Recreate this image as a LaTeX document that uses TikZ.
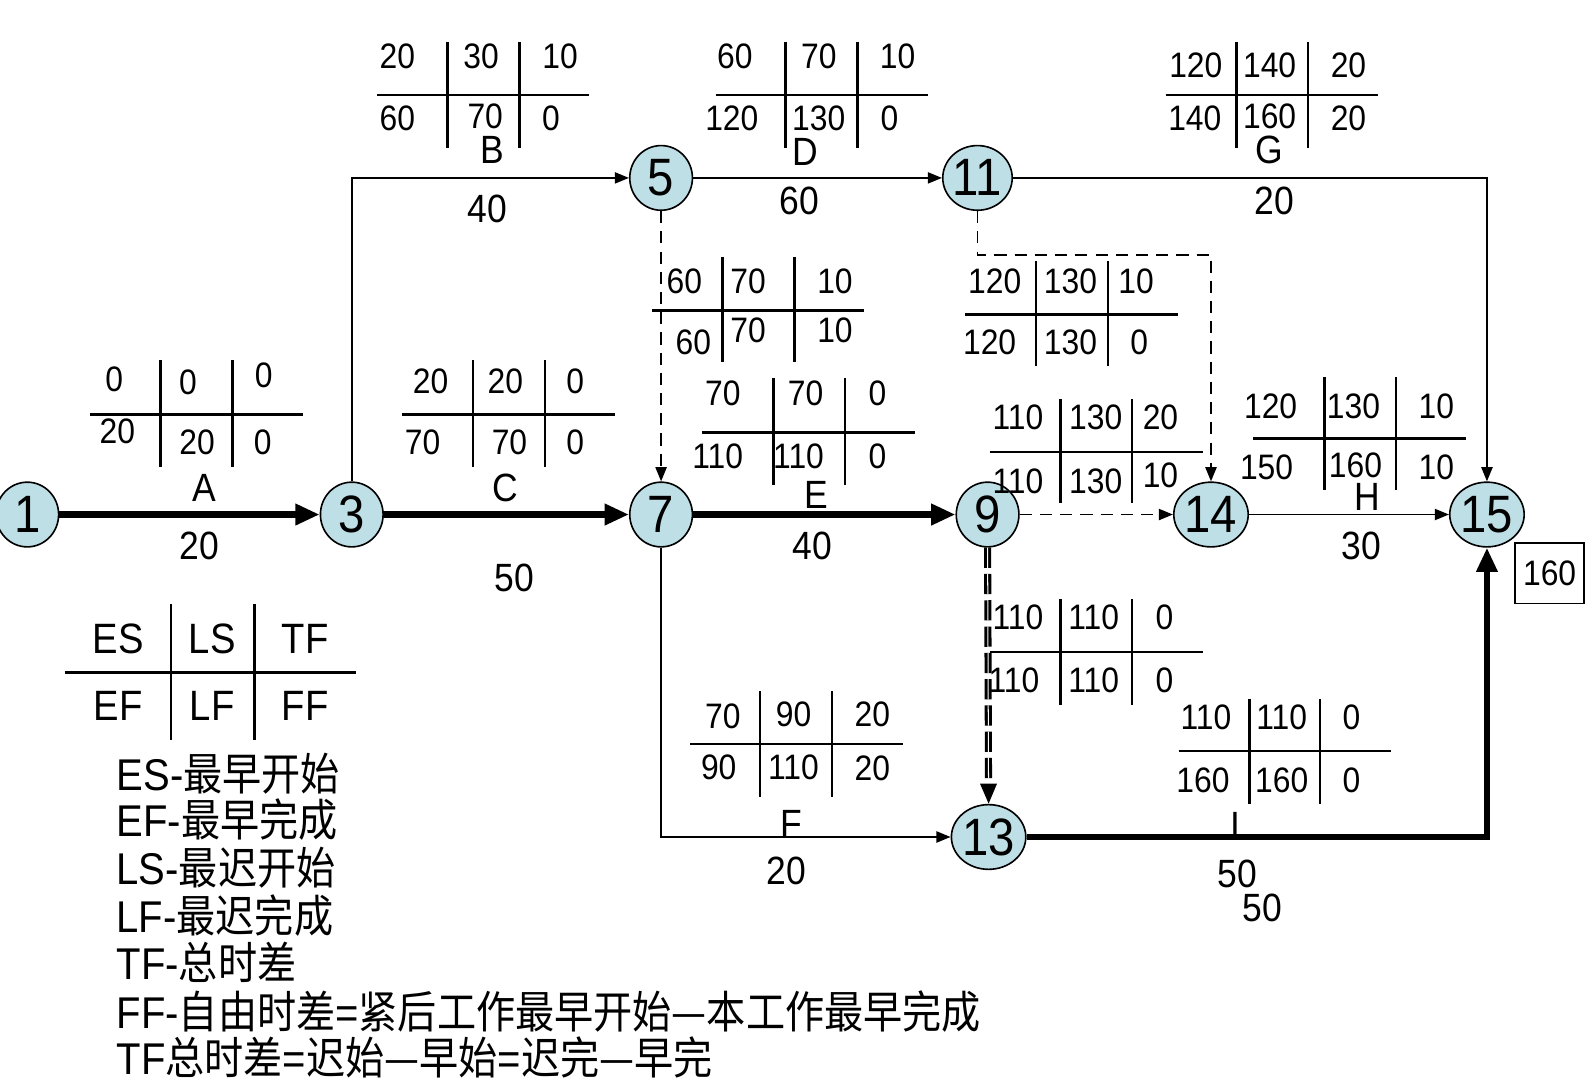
\documentclass[tikz,border=0pt]{standalone}
\usepackage{fontspec}
\setmainfont{Liberation Sans}[FakeStretch=0.9]
\newfontfamily\cjk{Noto Sans CJK SC}[FakeStretch=0.88]
\usetikzlibrary{arrows.meta,shapes.geometric}
\definecolor{nodefill}{RGB}{190,223,229}
\newcommand\grd[7]{%
  \draw[tl] (#1,#3) -- (#2,#3);
  \draw[tl] (#4,#6) -- (#4,#7);
  \draw[tl] (#5,#6) -- (#5,#7);}
\tikzset{
  ev/.style={ellipse, draw, line width=0.8pt, fill=nodefill, minimum width=31pt, minimum height=32pt, inner sep=0pt, font=\fontsize{26}{26}\selectfont},
  num/.style={inner sep=0pt, font=\fontsize{17.5}{18}\selectfont},
  lab/.style={inner sep=0pt, font=\fontsize{19.5}{20}\selectfont},
  leg/.style={inner sep=0pt, font=\fontsize{21}{21}\selectfont},
  legtxt/.style={inner sep=0pt, anchor=base west, font=\fontsize{22}{22}\selectfont},
  thk/.style={line width=3pt, -{Triangle[length=12pt,width=10pt]}},
  thn/.style={line width=0.9pt, -{Triangle[length=7pt,width=5.5pt]}},
  dsh/.style={thn, dash pattern=on 6pt off 4pt},
  dbl/.style={line width=1.5pt, double=white, double distance=0.5pt, dash pattern=on 10pt off 3pt, -{Triangle[length=10pt,width=8pt]}},
  tl/.style={line width=1.3pt}
}
\begin{document}
\begin{tikzpicture}[x=0.5pt,y=-0.5pt]
\useasboundingbox (0,0) rectangle (1568,1071);
\fill[white] (0,0) rectangle (1568,1071);
% nodes
\node[ev] (n1) at (27,509) {1};
\node[ev] (n3) at (348,509) {3};
\node[ev] (n5) at (654,176) {5};
\node[ev] (n7) at (654,509) {7};
\node[ev] (n9) at (977,509) {9};
\node[ev] (n11) at (967,176) {11};
\node[ev] (n13) at (978,828) {13};
\node[ev] (n14) at (1198,509) {14};
\node[ev] (n15) at (1471,509) {15};
\coordinate (k1) at (1198,252);
% connectors
\draw[thk] (n1) -- (n3);
\draw[thk] (n3) -- (n7);
\draw[thk] (n7) -- (n9);
\draw[thn] (n3.north) |- (n5.west);
\draw[thn] (n5) -- (n11);
\draw[thn] (n11.east) -| (n15.north);
\draw[dsh] (n5.south) -- (n7.north);
\draw[dsh] (n11.south) |- (k1) -- (n14.north);
\draw[dsh] (n9) -- (n14);
\draw[thn] (n14) -- (n15);
\draw[dbl] (n9.south) -- (n13.north);
\draw[thn] (n7.south) |- (n13.west);
\draw[thk] (n13.east) -| (n15.south);
% edge labels
\node[lab] (lA) at (202,483) {A};
\node[lab] (dA) at (197,540) {20};
\node[lab] (lC) at (500,483) {C};
\node[lab] (dC) at (509,572) {50};
\node[lab] (lE) at (808,490) {E};
\node[lab] (dE) at (804,540) {40};
\node[lab] (lB) at (487,148) {B};
\node[lab] (dB) at (482,207) {40};
\node[lab] (lD) at (797,150) {D};
\node[lab] (dD) at (791,199) {60};
\node[lab] (lG) at (1256,148) {G};
\node[lab] (dG) at (1261,199) {20};
\node[lab] (lH) at (1353,492) {H};
\node[lab] (dH) at (1347,540) {30};
\node[lab] (lF) at (783,815) {F};
\node[lab] (dF) at (778,862) {20};
\node[lab] (lI) at (1222,817) {I};
\node[lab] (dI) at (1224,865) {50};
\node[lab] (dI2) at (1249,898) {50};
\node[num, draw, line width=0.8pt, minimum width=34pt, minimum height=30pt] (tot) at (1533,567) {160};
% table A
\grd{89}{300}{410}{159}{230}{356}{462}
\node[num] (a1) at (113,375) {0}; \node[num] (a2) at (186,378) {0}; \node[num] (a3) at (261,371) {0};
\node[num] (a4) at (116,427) {20}; \node[num] (a5) at (195,438) {20}; \node[num] (a6) at (260,438) {0};
% table C
\grd{398}{608}{410}{468}{539}{356}{462}
\node[num] (c1) at (426,377) {20}; \node[num] (c2) at (500,377) {20}; \node[num] (c3) at (569,377) {0};
\node[num] (c4) at (418,438) {70}; \node[num] (c5) at (504,438) {70}; \node[num] (c6) at (569,438) {0};
% table B
\grd{373}{583}{94}{443}{514}{42}{146}
\node[num] (b1) at (393,56) {20}; \node[num] (b2) at (476,56) {30}; \node[num] (b3) at (554,56) {10};
\node[num] (b4) at (393,117) {60}; \node[num] (b5) at (480,115) {70}; \node[num] (b6) at (545,117) {0};
% table D
\grd{708}{918}{94}{777}{848}{42}{146}
\node[num] (d1) at (727,56) {60}; \node[num] (d2) at (810,56) {70}; \node[num] (d3) at (888,56) {10};
\node[num] (d4) at (724,117) {120}; \node[num] (d5) at (810,117) {130}; \node[num] (d6) at (880,117) {0};
% table G
\grd{1153}{1363}{94}{1223}{1294}{42}{146}
\node[num] (g1) at (1183,65) {120}; \node[num] (g2) at (1256,65) {140}; \node[num] (g3) at (1334,65) {20};
\node[num] (g4) at (1182,117) {140}; \node[num] (g5) at (1256,115) {160}; \node[num] (g6) at (1334,117) {20};
% table 5-7
\grd{645}{855}{307}{715}{786}{254}{358}
\node[num] (p1) at (677,278) {60}; \node[num] (p2) at (740,278) {70}; \node[num] (p3) at (826,278) {10};
\node[num] (p4) at (686,339) {60}; \node[num] (p5) at (740,327) {70}; \node[num] (p6) at (826,327) {10};
% table E
\grd{694}{905}{428}{765}{836}{374}{480}
\node[num] (e1) at (715,389) {70}; \node[num] (e2) at (797,389) {70}; \node[num] (e3) at (868,389) {0};
\node[num] (e4) at (710,451) {110}; \node[num] (e5) at (790,451) {110}; \node[num] (e6) at (868,451) {0};
% table 11-14
\grd{955}{1165}{311}{1025}{1096}{258}{362}
\node[num] (q1) at (984,278) {120}; \node[num] (q2) at (1059,278) {130}; \node[num] (q3) at (1124,278) {10};
\node[num] (q4) at (979,339) {120}; \node[num] (q5) at (1059,339) {130}; \node[num] (q6) at (1127,339) {0};
% table 9-14
\grd{979}{1190}{447}{1049}{1120}{395}{498}
\node[num] (r1) at (1007,413) {110}; \node[num] (r2) at (1084,413) {130}; \node[num] (r3) at (1148,413) {20};
\node[num] (r4) at (1007,476) {110}; \node[num] (r5) at (1084,476) {130}; \node[num] (r6) at (1148,470) {10};
% table H
\grd{1240}{1450}{434}{1310}{1381}{373}{485}
\node[num] (h1) at (1257,402) {120}; \node[num] (h2) at (1339,402) {130}; \node[num] (h3) at (1421,402) {10};
\node[num] (h4) at (1253,462) {150}; \node[num] (h5) at (1341,460) {160}; \node[num] (h6) at (1421,462) {10};
% table 9-13
\grd{979}{1190}{645}{1049}{1120}{593}{697}
\node[num] (s1) at (1007,611) {110}; \node[num] (s2) at (1082,611) {110}; \node[num] (s3) at (1152,611) {0};
\node[num] (s4) at (1003,673) {110}; \node[num] (s5) at (1082,673) {110}; \node[num] (s6) at (1152,673) {0};
% table I
\grd{1166}{1376}{743}{1236}{1306}{691}{795}
\node[num] (i1) at (1193,710) {110}; \node[num] (i2) at (1268,710) {110}; \node[num] (i3) at (1337,710) {0};
\node[num] (i4) at (1190,772) {160}; \node[num] (i5) at (1268,772) {160}; \node[num] (i6) at (1337,772) {0};
% table F
\grd{683}{893}{736}{752}{823}{684}{788}
\node[num] (f1) at (715,709) {70}; \node[num] (f2) at (785,707) {90}; \node[num] (f3) at (863,707) {20};
\node[num] (f4) at (711,759) {90}; \node[num] (f5) at (785,759) {110}; \node[num] (f6) at (863,760) {20};
% legend table
\grd{64}{352}{665}{169}{252}{598}{732}
\node[leg] (L1) at (117,632) {ES}; \node[leg] (L2) at (210,632) {LS}; \node[leg] (L3) at (302,632) {TF};
\node[leg] (L4) at (117,698) {EF}; \node[leg] (L5) at (210,698) {LF}; \node[leg] (L6) at (302,698) {FF};
% legend text
\node[legtxt] (t1) at (115,782) {ES-{\cjk 最早开始}};
\node[legtxt] (t2) at (115,828) {EF-{\cjk 最早完成}};
\node[legtxt] (t3) at (115,875) {LS-{\cjk 最迟开始}};
\node[legtxt] (t4) at (115,922) {LF-{\cjk 最迟完成}};
\node[legtxt] (t5) at (115,969) {TF-{\cjk 总时差}};
\node[legtxt] (t6) at (115,1017) {FF-{\cjk 自由时差}={\cjk 紧后工作最早开始—本工作最早完成}};
\node[legtxt] (t7) at (115,1063) {TF{\cjk 总时差}={\cjk 迟始—早始}={\cjk 迟完—早完}};
\end{tikzpicture}
\end{document}
